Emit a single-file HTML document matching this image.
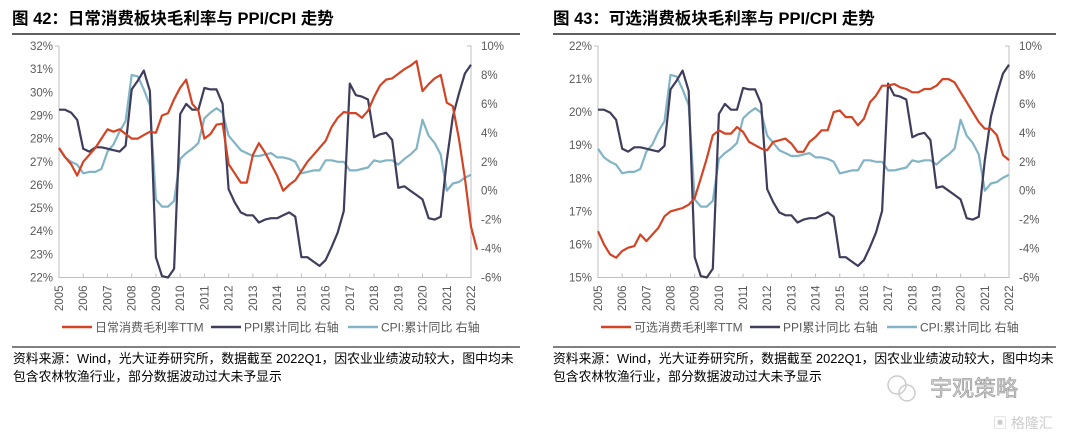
<!DOCTYPE html>
<html><head><meta charset="utf-8">
<style>
body{margin:0;background:#fff;width:1067px;height:439px;overflow:hidden;font-family:"Liberation Sans","Noto Sans CJK SC",sans-serif;}
svg{position:absolute;left:0;top:0}
</style></head>
<body>
<svg id="s" width="1067" height="439" viewBox="0 0 1067 439">
<text x="12" y="24" font-size="16.5" font-weight="bold" fill="#000">图 42：日常消费板块毛利率与 PPI/CPI 走势</text>
<text x="553" y="24" font-size="16.5" font-weight="bold" fill="#000">图 43：可选消费板块毛利率与 PPI/CPI 走势</text>
<line x1="12" y1="34" x2="520" y2="34" stroke="#000" stroke-width="1.3"/>
<line x1="553" y1="34" x2="1056" y2="34" stroke="#000" stroke-width="1.3"/>
<line x1="12" y1="347" x2="520" y2="347" stroke="#000" stroke-width="1.1"/>
<line x1="553" y1="347" x2="1056" y2="347" stroke="#000" stroke-width="1.1"/>
<text x="13" y="363" font-size="12.8" fill="#000">资料来源：Wind，光大证券研究所，数据截至 2022Q1，因农业业绩波动较大，图中均未</text>
<text x="13" y="381" font-size="12.8" fill="#000">包含农林牧渔行业，部分数据波动过大未予显示</text>
<text x="553" y="363" font-size="12.8" fill="#000">资料来源：Wind，光大证券研究所，数据截至 2022Q1，因农业业绩波动较大，图中均未</text>
<text x="553" y="381" font-size="12.8" fill="#000">包含农林牧渔行业，部分数据波动过大未予显示</text>
<g fill="#bbb">
<circle cx="897" cy="385" r="9" fill="none" stroke="#ccc" stroke-width="1.5"/>
<circle cx="907" cy="393" r="8" fill="none" stroke="#ccc" stroke-width="1.5"/>
<text x="930" y="396" font-size="22" fill="#d0d0d0" stroke="#888" stroke-width="0.5">宇观策略</text>
<text x="993" y="428" font-size="14" fill="#ccc">▣ 格隆汇</text>
</g>
<g id="c1"></g>
<g id="c2"></g>
</svg>
<script>
const years=["2005","2006","2007","2008","2009","2010","2011","2012","2013","2014","2015","2016","2017","2018","2019","2020","2021","2022"];
const leftTicks42=["22%","23%","24%","25%","26%","27%","28%","29%","30%","31%","32%"];
const leftTicks43=["15%","16%","17%","18%","19%","20%","21%","22%"];
const rightTicks=["-6%","-4%","-2%","0%","2%","4%","6%","8%","10%"];
const staplesMargin=[27.6,27.2,26.9,26.4, 27.0,27.3,27.6,28.0, 28.4,28.3,28.4,28.2, 28.0,28.0,28.15,28.3, 28.25,29.0,29.1,29.7, 30.2,30.55,29.5,29.2, 28.0,28.2,28.6,28.65, 26.9,26.5,26.1,26.1, 27.3,27.8,27.4,26.9, 26.4,25.75,26.0,26.2, 26.6,27.0,27.3,27.6, 27.9,28.5,28.9,29.15, 29.1,29.1,28.9,29.2, 29.8,30.3,30.55,30.6, 30.8,31.0,31.15,31.35, 30.05,30.35,30.6,30.75, 29.55,29.4,28.0,26.3, 24.2,23.2];
const discMargin=[16.4,16.0,15.7,15.6, 15.8,15.9,15.95,16.3, 16.1,16.3,16.5,16.85, 17.0,17.05,17.1,17.2, 17.4,18.0,18.6,19.3, 19.45,19.35,19.35,19.55, 19.4,19.1,19.0,18.9, 18.85,19.1,19.15,19.2, 19.05,18.8,18.8,19.1, 19.25,19.45,19.45,20.0, 20.05,19.85,19.85,19.6, 19.8,20.3,20.5,20.8, 20.8,20.85,20.75,20.7, 20.6,20.6,20.7,20.7, 20.8,21.0,21.0,20.9, 20.6,20.3,20.0,19.7, 19.5,19.5,19.3,18.7, 18.55];
const ppi=[5.6,5.6,5.4,4.9, 2.9,2.7,3.0,3.0, 2.9,2.8,2.7,3.1, 7.0,7.6,8.3,6.9, -4.6,-5.9,-6.0,-5.4, 5.3,6.0,5.6,5.6, 7.1,7.0,7.0,6.0, 0.1,-0.8,-1.5,-1.7, -1.7,-2.2,-2.0,-1.9, -1.9,-1.7,-1.5,-1.8, -4.6,-4.6,-4.9,-5.2, -4.8,-3.9,-2.9,-1.4, 7.4,6.6,6.5,6.3, 3.7,3.9,4.0,3.5, 0.2,0.3,0.0,-0.3, -0.6,-1.9,-2.0,-1.8, 2.1,5.1,6.7,8.1, 8.7];
const cpi=[2.9,2.3,2.0,1.8, 1.2,1.3,1.3,1.5, 2.7,3.2,4.1,4.8, 8.0,7.9,7.0,5.9, -0.6,-1.1,-1.1,-0.7, 2.2,2.6,2.9,3.3, 5.0,5.4,5.7,5.4, 3.8,3.3,2.8,2.6, 2.4,2.4,2.5,2.6, 2.3,2.3,2.2,2.0, 1.2,1.3,1.4,1.4, 2.1,2.1,2.0,2.0, 1.4,1.4,1.5,1.6, 2.1,2.0,2.1,2.1, 1.8,2.2,2.5,2.9, 4.9,3.8,3.3,2.5, 0.0,0.5,0.6,0.9, 1.1];
const NS="http://www.w3.org/2000/svg";
function mk(tag,at,parent,txt){const e=document.createElementNS(NS,tag);for(const k in at)e.setAttribute(k,at[k]);if(txt!==undefined)e.textContent=txt;parent.appendChild(e);return e;}
function draw(g,x0,x1,lmin,lmax,lTicks,margin,label){
  const y0=46,y1=277.5;
  const X=i=>x0+(x1-x0)*i/68;
  const YL=v=>y1-(v-lmin)/(lmax-lmin)*(y1-y0);
  const YR=v=>y1-(v+6)/16*(y1-y0);
  let a=mk('path',{d:`M${x0},${y0}H${x0-4}M${x0},${y0}V${y1}H${x1}V${y0}H${x1-4}`,fill:'none',stroke:'#bfbfbf','stroke-width':1},g);
  
  lTicks.forEach((t,i)=>{const v=lmin+i;const e=mk('text',{x:x0-6,y:YL(v)+4,'font-size':11.5,fill:'#595959','text-anchor':'end'},g,t);
    });
  rightTicks.forEach((t,i)=>{const v=-6+2*i;const e=mk('text',{x:x1+10,y:YR(v)+4,'font-size':11.5,fill:'#595959'},g,t);
    });
  years.forEach((t,i)=>{const x=X(i*4);
    const tk=mk('line',{x1:x,x2:x,y1:y1,y2:y1-4,stroke:'#bfbfbf'},g);
    
    const e=mk('text',{x:0,y:0,'font-size':11.5,fill:'#595959','text-anchor':'end',transform:`translate(${x+4},${y1+8}) rotate(-90)`},g,t);
    });
  const line=(arr,Y,col,name)=>{const d=arr.map((v,i)=>(i?'L':'M')+X(i).toFixed(1)+','+Y(v).toFixed(1)).join('');
    const p=mk('path',{d,fill:'none',stroke:col,'stroke-width':2.2,'stroke-linejoin':'round'},g);
    };
  line(cpi,YR,'#82b4c6','cpi-line');
  line(ppi,YR,'#3f3d5c','ppi-line');
  line(margin,YL,'#d24425','margin-line');
  const ly=327, lx=x0+3;
  const items=[[label,'#d24425',0],['PPI累计同比 右轴','#3f3d5c',149],['CPI:累计同比 右轴','#82b4c6',286]];
  items.forEach(it=>{const gg=mk('g',{},g);
    mk('line',{x1:lx+it[2],x2:lx+it[2]+30,y1:ly,y2:ly,stroke:it[1],'stroke-width':2.5},gg);
    mk('text',{x:lx+it[2]+33,y:ly+4.5,'font-size':12,fill:'#595959'},gg,it[0]);});
}
draw(document.getElementById('c1'),59,471,22,32,leftTicks42,staplesMargin,'日常消费毛利率TTM');
draw(document.getElementById('c2'),598,1009,15,22,leftTicks43,discMargin,'可选消费毛利率TTM');
</script>
</body></html>
